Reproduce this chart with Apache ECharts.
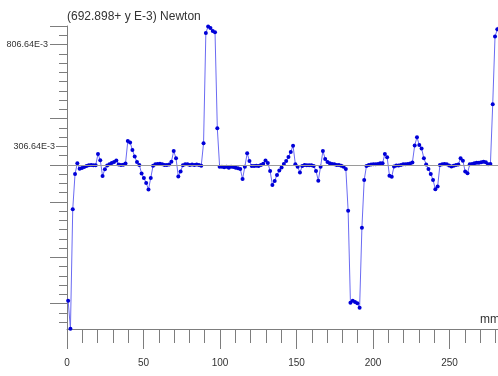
<!DOCTYPE html>
<html>
<head>
<meta charset="utf-8">
<script src="https://cdn.jsdelivr.net/npm/echarts@6/dist/echarts.min.js"></script>
<style>
html, body { margin: 0; padding: 0; background: #fff; }
#chart { width: 498px; height: 376px; }
</style>
</head>
<body>
<div id="chart"></div>
<script>
// position along the specimen (mm)
const positionMm = [
  0.75, 2.25, 3.75, 5.25, 6.75, 8.25, 9.75, 11.25, 12.75, 14.25,
  15.75, 17.25, 18.75, 20.25, 21.75, 23.25, 24.75, 26.25, 27.75, 29.25,
  30.75, 32.25, 33.75, 35.25, 36.75, 38.25, 39.75, 41.25, 42.75, 44.25,
  45.75, 47.25, 48.75, 50.25, 51.75, 53.25, 54.75, 56.25, 57.75, 59.25,
  60.75, 62.25, 63.75, 65.25, 66.75, 68.25, 69.75, 71.25, 72.75, 74.25,
  75.75, 77.25, 78.75, 80.25, 81.75, 83.25, 84.75, 86.25, 87.75, 89.25,
  90.75, 92.25, 93.75, 95.25, 96.75, 98.25, 99.75, 101.25, 102.75, 104.25,
  105.75, 107.25, 108.75, 110.25, 111.75, 113.25, 114.75, 116.25, 117.75, 119.25,
  120.75, 122.25, 123.75, 125.25, 126.75, 128.25, 129.75, 131.25, 132.75, 134.25,
  135.75, 137.25, 138.75, 140.25, 141.75, 143.25, 144.75, 146.25, 147.75, 149.25,
  150.75, 152.25, 153.75, 155.25, 156.75, 158.25, 159.75, 161.25, 162.75, 164.25,
  165.75, 167.25, 168.75, 170.25, 171.75, 173.25, 174.75, 176.25, 177.75, 179.25,
  180.75, 182.25, 183.75, 185.25, 186.75, 188.25, 189.75, 191.25, 192.75, 194.25,
  195.75, 197.25, 198.75, 200.25, 201.75, 203.25, 204.75, 206.25, 207.75, 209.25,
  210.75, 212.25, 213.75, 215.25, 216.75, 218.25, 219.75, 221.25, 222.75, 224.25,
  225.75, 227.25, 228.75, 230.25, 231.75, 233.25, 234.75, 236.25, 237.75, 239.25,
  240.75, 242.25, 243.75, 245.25, 246.75, 248.25, 249.75, 251.25, 252.75, 254.25,
  255.75, 257.25, 258.75, 260.25, 261.75, 263.25, 264.75, 266.25, 267.75, 269.25,
  270.75, 272.25, 273.75, 275.25, 276.75, 278.25, 279.75, 281.25, 282.75
];

// force, in the axis label units (E-3)
const forceValues = [
  -451.8, -590.0, -2.7, 170.8, 223.3, 196.8, 200.2, 205.2, 210.1, 213.5,
  215.0, 213.5, 213.5, 269.0, 238.1, 160.9, 193.9, 212.5, 218.9, 224.8,
  229.7, 237.1, 217.4, 215.0, 216.0, 222.4, 332.9, 325.6, 288.7, 255.8,
  229.7, 215.0, 173.2, 151.1, 126.5, 94.6, 151.1, 211.5, 218.4, 219.9,
  220.9, 218.4, 215.0, 215.0, 217.4, 231.2, 283.8, 247.9, 158.5, 183.1,
  213.5, 218.4, 218.4, 215.0, 217.4, 215.0, 217.4, 215.0, 211.5, 321.6,
  863.6, 895.6, 888.2, 873.5, 867.1, 395.3, 206.6, 206.6, 203.7, 206.6,
  201.7, 206.6, 205.2, 201.7, 198.8, 195.3, 146.2, 206.6, 272.5, 234.6,
  210.1, 210.1, 211.5, 210.1, 215.0, 220.9, 237.1, 224.8, 185.5, 116.7,
  136.4, 165.8, 188.0, 202.7, 219.9, 234.6, 254.3, 278.9, 309.8, 218.4,
  206.6, 177.2, 210.1, 215.0, 213.5, 213.5, 213.5, 210.1, 185.5, 137.8,
  206.6, 283.8, 244.5, 229.7, 223.3, 219.9, 218.4, 215.0, 215.0, 211.5,
  206.6, 195.3, -9.6, -461.7, -451.8, -458.2, -464.6, -486.2, -93.1, 141.3,
  210.1, 215.0, 216.5, 218.4, 218.9, 219.9, 223.3, 223.3, 269.0, 252.8,
  162.4, 157.5, 207.6, 212.5, 212.5, 215.0, 218.4, 218.4, 219.9, 221.4,
  227.3, 310.8, 351.1, 313.3, 296.1, 247.9, 217.4, 195.3, 170.8, 141.3,
  95.6, 109.3, 215.0, 218.4, 219.9, 218.9, 212.5, 207.6, 211.1, 215.0,
  217.4, 247.9, 236.1, 182.1, 174.2, 218.4, 219.9, 223.3, 226.3, 226.3,
  228.3, 231.2, 228.3, 218.4, 219.9, 513.3, 845.5, 881.8, 888.2
];

// y tick labels and tick layout
const labelTop = 806.64;
const labelMid = 306.64;
const tickStep = (labelTop - labelMid) / 11;
const longTickIdx = [-2, 0, 8, 13, 17, 23, 28];
const zeroTickIdx = 13;

const yMax = labelTop + 2 * tickStep;
const yMin = labelTop - 30.75 * tickStep;

let minorTicks = [];
for (let k = -2; k <= 30; k++) minorTicks.push(labelTop - k * tickStep);
const longTicks = longTickIdx.map(k => labelTop - k * tickStep);
const zeroLine = labelTop - zeroTickIdx * tickStep;

const font = "'Liberation Sans', Arial, sans-serif";
const axisGray = '#7d7d7d';
const textColor = '#333';
const fmt = v => v.toFixed(2) + 'E-3';

const yBase = {
  type: 'value',
  min: yMin,
  max: yMax,
  position: 'left',
  splitLine: { show: false },
  axisLine: { show: false },
  axisLabel: { show: false },
  axisTick: { show: false }
};

const chart = echarts.init(document.getElementById('chart'));
chart.setOption({
  animation: false,
  backgroundColor: '#fff',
  grid: { left: 67, right: -28, top: 26, bottom: 47, outerBoundsMode: 'none' },
  xAxis: {
    type: 'value',
    min: 0,
    max: 300,
    interval: 50,
    axisLine: { onZero: false, lineStyle: { color: axisGray, width: 1 } },
    axisTick: { show: true, length: 20, lineStyle: { color: axisGray } },
    minorTick: { show: true, splitNumber: 5, length: 14, lineStyle: { color: axisGray } },
    splitLine: { show: false },
    minorSplitLine: { show: false },
    axisLabel: { margin: 29, fontSize: 10, color: textColor, fontFamily: font },
    name: 'mm',
    nameLocation: 'end',
    nameGap: -46,
    nameTextStyle: {
      fontSize: 12, color: textColor, fontFamily: font,
      align: 'left', verticalAlign: 'bottom', lineHeight: 12, padding: [0, 0, 3, 0]
    }
  },
  yAxis: [
    Object.assign({}, yBase, {
      axisLine: { show: true, lineStyle: { color: axisGray, width: 1 } },
      axisTick: { show: true, length: 8, customValues: minorTicks, lineStyle: { color: axisGray } },
      name: '(692.898+ y E-3) Newton',
      nameLocation: 'end',
      nameGap: 9,
      nameTextStyle: { fontSize: 12, color: textColor, fontFamily: font, align: 'left', verticalAlign: 'middle' }
    }),
    Object.assign({}, yBase, {
      axisTick: { show: true, length: 17, customValues: longTicks, lineStyle: { color: axisGray } }
    }),
    Object.assign({}, yBase, {
      axisTick: { show: true, length: 11, customValues: [labelMid], lineStyle: { color: axisGray } },
      axisLabel: { show: true, customValues: [labelTop], margin: 19, fontSize: 9, color: textColor, fontFamily: font, formatter: fmt }
    }),
    Object.assign({}, yBase, {
      axisLabel: { show: true, customValues: [labelMid], margin: 12, fontSize: 9, color: textColor, fontFamily: font, formatter: fmt }
    })
  ],
  series: [{
    type: 'line',
    yAxisIndex: 0,
    data: positionMm.map((x, i) => [x, forceValues[i]]),
    showSymbol: true,
    symbol: 'circle',
    symbolSize: 4,
    itemStyle: { color: '#0000d8' },
    lineStyle: { color: '#6b6bf2', width: 1 },
    markLine: {
      silent: true,
      symbol: 'none',
      label: { show: false },
      lineStyle: { color: '#9a9a9a', type: 'solid', width: 1 },
      data: [{ yAxis: zeroLine }]
    }
  }]
});
</script>
</body>
</html>
